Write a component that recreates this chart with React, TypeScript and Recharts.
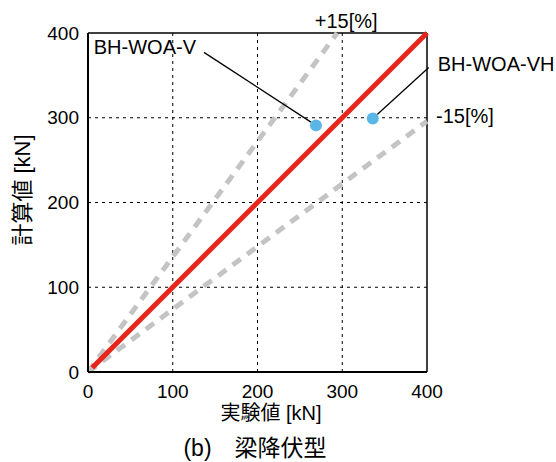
import React from 'react';
import {
    ComposedChart, Scatter, XAxis, YAxis, CartesianGrid, ReferenceLine, ReferenceDot, Label,
} from 'recharts';

// axis ticks
const xTicks = [0, 100, 200, 300, 400];
const yTicks = [0, 100, 200, 300, 400];

// reference lines (実験値, 計算値)
const idealLine = [{ x: 5, y: 5 }, { x: 400, y: 400 }];
const upperLine = [{ x: 0, y: 0 }, { x: 294, y: 400 }];
const lowerLine = [{ x: 0, y: 0 }, { x: 400, y: 296 }];
const upperLabel = '+15[%]';
const lowerLabel = '-15[%]';

// specimens
const specimens = ['BH-WOA-V', 'BH-WOA-VH'];
const experimental = [269, 336];
const calculated = [291, 299];

const points = specimens.map((name, i) => ({ name, x: experimental[i], y: calculated[i] }));

const FONT = '"Liberation Sans", Arial, "Noto Sans CJK JP", sans-serif';

// leader line / label offsets, px relative to the point
const callouts = [
    { lx: -112, ly: -73, tx: -120, ty: -78, anchor: 'end' },
    { lx: 56, ly: -51, tx: 65, ty: -55, anchor: 'start' },
];

const SpecimenPoint = (props: any) => {
    const { cx, cy, index, payload } = props;
    const c = callouts[index] || callouts[0];
    const dx = c.lx, dy = c.ly;
    const len = Math.sqrt(dx * dx + dy * dy);
    return (
        <g>
            <line x1={cx + (dx / len) * 6} y1={cy + (dy / len) * 6} x2={cx + dx} y2={cy + dy} stroke="#000" strokeWidth={1.3} />
            <circle cx={cx} cy={cy} r={6} fill="#5bb6e8" />
            <text x={cx + c.tx} y={cy + c.ty} textAnchor={c.anchor} dominantBaseline="central" fontSize={20} fill="#000" fontFamily={FONT}>
                {payload.name}
            </text>
        </g>
    );
};

export default function App() {
    return (
        <div style={{ position: 'absolute', left: 0, top: 0, width: 556, height: 462, background: '#fff', fontFamily: FONT }}>
            <ComposedChart width={556} height={462} margin={{ top: 33, right: 129, bottom: 0, left: 0 }}>
                <CartesianGrid stroke="#000" strokeWidth={1} strokeDasharray="3 4" horizontalValues={[100, 200, 300]} verticalValues={[100, 200, 300]} />
                <XAxis
                    type="number"
                    dataKey="x"
                    domain={[0, 400]}
                    ticks={xTicks}
                    height={90}
                    tickSize={0}
                    tickMargin={13}
                    axisLine={{ stroke: '#000', strokeWidth: 2 }}
                    tick={{ fill: '#000', fontSize: 19, fontFamily: FONT }}
                >
                    <Label
                        content={({ viewBox }: any) => (
                            <g fontFamily={FONT} fill="#000">
                                <text x={271} y={viewBox.y + 41} textAnchor="middle" dominantBaseline="central" fontSize={20}>実験値 [kN]</text>
                                <text x={255} y={viewBox.y + 76} textAnchor="middle" dominantBaseline="central" fontSize={23} style={{ whiteSpace: 'pre' }}>(b)　梁降伏型</text>
                            </g>
                        )}
                    />
                </XAxis>
                <YAxis
                    type="number"
                    dataKey="y"
                    domain={[0, 400]}
                    ticks={yTicks}
                    width={88}
                    tickSize={0}
                    tickMargin={9}
                    axisLine={{ stroke: '#000', strokeWidth: 2 }}
                    tick={{ fill: '#000', fontSize: 19, fontFamily: FONT }}
                >
                    <Label
                        content={() => (
                            <text x={22} y={190} textAnchor="middle" dominantBaseline="central" fontSize={22} fill="#000" fontFamily={FONT} transform="rotate(-90 22 190)">
                                計算値 [kN]
                            </text>
                        )}
                    />
                </YAxis>
                <ReferenceLine y={400} stroke="#000" strokeWidth={1.5} />
                <ReferenceLine x={400} stroke="#000" strokeWidth={1.5} />
                <ReferenceLine segment={upperLine} stroke="#c4c4c4" strokeWidth={5} strokeDasharray="10 8" />
                <ReferenceLine segment={lowerLine} stroke="#c4c4c4" strokeWidth={5} strokeDasharray="10 8" />
                <ReferenceLine segment={idealLine} stroke="#e8251a" strokeWidth={5} />
                <ReferenceDot
                    x={upperLine[1].x}
                    y={upperLine[1].y}
                    r={0}
                    fill="none"
                    stroke="none"
                    label={{
                        content: ({ viewBox }: any) => (
                            <text x={viewBox.x + 9} y={viewBox.y - 12} textAnchor="middle" dominantBaseline="central" fontSize={20} fill="#000" fontFamily={FONT}>{upperLabel}</text>
                        ),
                    }}
                />
                <ReferenceDot
                    x={lowerLine[1].x}
                    y={lowerLine[1].y}
                    r={0}
                    fill="none"
                    stroke="none"
                    label={{
                        content: ({ viewBox }: any) => (
                            <text x={viewBox.x + 9} y={viewBox.y - 5} textAnchor="start" dominantBaseline="central" fontSize={20} fill="#000" fontFamily={FONT}>{lowerLabel}</text>
                        ),
                    }}
                />
                <Scatter data={points} dataKey="y" shape={<SpecimenPoint />} isAnimationActive={false} />
            </ComposedChart>
        </div>
    );
}
